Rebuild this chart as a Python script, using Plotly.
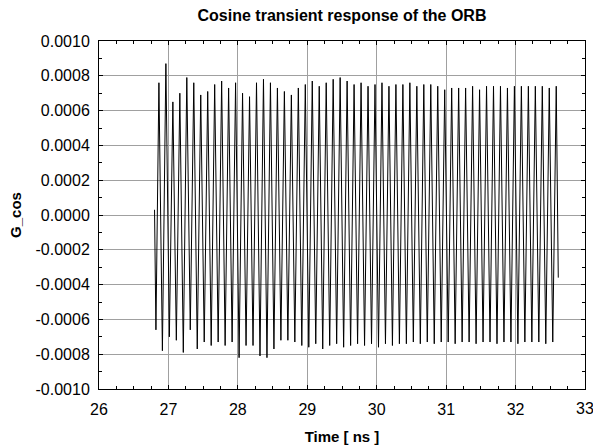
import plotly.graph_objects as go

# ---- data ----
T_START = 26.80          # ns, where the trace begins
V_START = 0.00003
T_FIRST_PEAK = 26.863    # ns
PERIOD = 0.1004          # ns (measured spacing of peaks)
T_END = 32.615
V_END = -0.00036
FIRST_TROUGH = -0.00066

peaks = [
    0.00076, 0.00087, 0.00065, 0.00070, 0.00079, 0.00076, 0.00069, 0.00071,
    0.00075, 0.00077, 0.00073, 0.00076, 0.00070, 0.00068, 0.00076, 0.00078,
    0.00076, 0.00073, 0.00071, 0.00069, 0.00073,
    0.00075, 0.00077, 0.00074, 0.00076, 0.00078, 0.00079, 0.00077, 0.00075,
    0.00076, 0.00074, 0.00075, 0.00076, 0.00074, 0.00075,
    0.00075, 0.00076, 0.00074, 0.00075, 0.00075, 0.00074, 0.00072, 0.00073,
    0.00073, 0.00073, 0.00074, 0.00072, 0.00074, 0.00074, 0.00074, 0.00073,
    0.00074, 0.00074, 0.00074, 0.00074, 0.00074, 0.00073, 0.00074,
]
troughs = [
    -0.00078, -0.00070, -0.00072, -0.00079, -0.00066, -0.00077, -0.00073, -0.00075,
    -0.00073, -0.00075, -0.00073, -0.00082, -0.00075, -0.00075, -0.00081, -0.00082,
    -0.00077, -0.00072, -0.00072, -0.00073,
    -0.00075, -0.00076, -0.00074, -0.00077, -0.00075, -0.00074, -0.00076, -0.00075,
    -0.00074, -0.00075, -0.00074, -0.00076, -0.00074, -0.00075, -0.00074,
    -0.00074, -0.00073, -0.00074, -0.00073, -0.00074, -0.00073, -0.00073, -0.00074,
    -0.00073, -0.00073, -0.00074, -0.00073, -0.00073, -0.00074, -0.00073, -0.00073,
    -0.00074, -0.00073, -0.00073, -0.00073, -0.00074, -0.00073,
]

x_tickvals = [26, 27, 28, 29, 30, 31, 32, 33]
x_ticktext = ["26", "27", "28", "29", "30", "31", "32", "33"]
y_tickvals = [0.0010, 0.0008, 0.0006, 0.0004, 0.0002, 0.0, -0.0002, -0.0004, -0.0006, -0.0008, -0.0010]
y_ticktext = ["0.0010", "0.0008", "0.0006", "0.0004", "0.0002", "0.0000",
              "-0.0002", "-0.0004", "-0.0006", "-0.0008", "-0.0010"]

# ---- build the trace: start, first trough, then alternating peak / trough ----
t = [T_START, T_START + 0.02]
v = [V_START, FIRST_TROUGH]
for i, p in enumerate(peaks):
    tp = T_FIRST_PEAK + i * PERIOD
    t.append(tp)
    v.append(p)
    if i < len(troughs):
        t.append(tp + PERIOD / 2)
        v.append(troughs[i])
t.append(T_END)
v.append(V_END)

fig = go.Figure()
fig.add_trace(go.Scatter(x=t, y=v, mode="lines",
                         line=dict(color="black", width=1), showlegend=False))

FONT = "Liberation Sans, Arial, sans-serif"
fig.update_layout(
    width=593, height=446,
    margin=dict(l=99, r=8, t=41, b=57),
    paper_bgcolor="white", plot_bgcolor="white",
    font=dict(family=FONT, size=16, color="black"),
    title=dict(text="<b>Cosine transient response of the ORB</b>",
               x=0.5, xref="paper", xanchor="center",
               y=1 - 15 / 446, yref="container", yanchor="middle",
               font=dict(size=16)),
)

# the last tick label overflows the page edge (clipped like in the reference);
# plotly hides such labels, so it is drawn as an annotation at its tick value
fig.add_annotation(x=x_tickvals[-1], xref="x", y=0, yref="paper",
                   text=x_ticktext[-1], showarrow=False,
                   xanchor="center", yanchor="top", yshift=-9,
                   font=dict(family=FONT, size=16, color="black"))

fig.update_xaxes(
    range=[26, 33], tickvals=x_tickvals, ticktext=x_ticktext,
    showgrid=True, gridcolor="#a0a0a0", gridwidth=1,
    showline=True, linecolor="black", linewidth=1, mirror="ticks",
    ticks="inside", ticklen=4, tickcolor="black",
    minor=dict(dtick=0.25, ticks="inside", ticklen=3, tickcolor="black", showgrid=False),
    zeroline=False, automargin=False,
    tickfont=dict(size=16), ticklabelstandoff=6,
    title=dict(text="<b>Time [ ns ]</b>", font=dict(size=15), standoff=14),
)
fig.update_yaxes(
    range=[-0.0010, 0.0010], tickvals=y_tickvals, ticktext=y_ticktext,
    showgrid=True, gridcolor="#a0a0a0", gridwidth=1,
    showline=True, linecolor="black", linewidth=1, mirror="ticks",
    ticks="inside", ticklen=4, tickcolor="black",
    minor=dict(dtick=0.0001, ticks="inside", ticklen=3, tickcolor="black", showgrid=False),
    zeroline=False, automargin=False,
    tickfont=dict(size=16), ticklabelstandoff=5,
    title=dict(text="<b>G_cos</b>", font=dict(size=15), standoff=10),
)

fig.write_html("out.html")
